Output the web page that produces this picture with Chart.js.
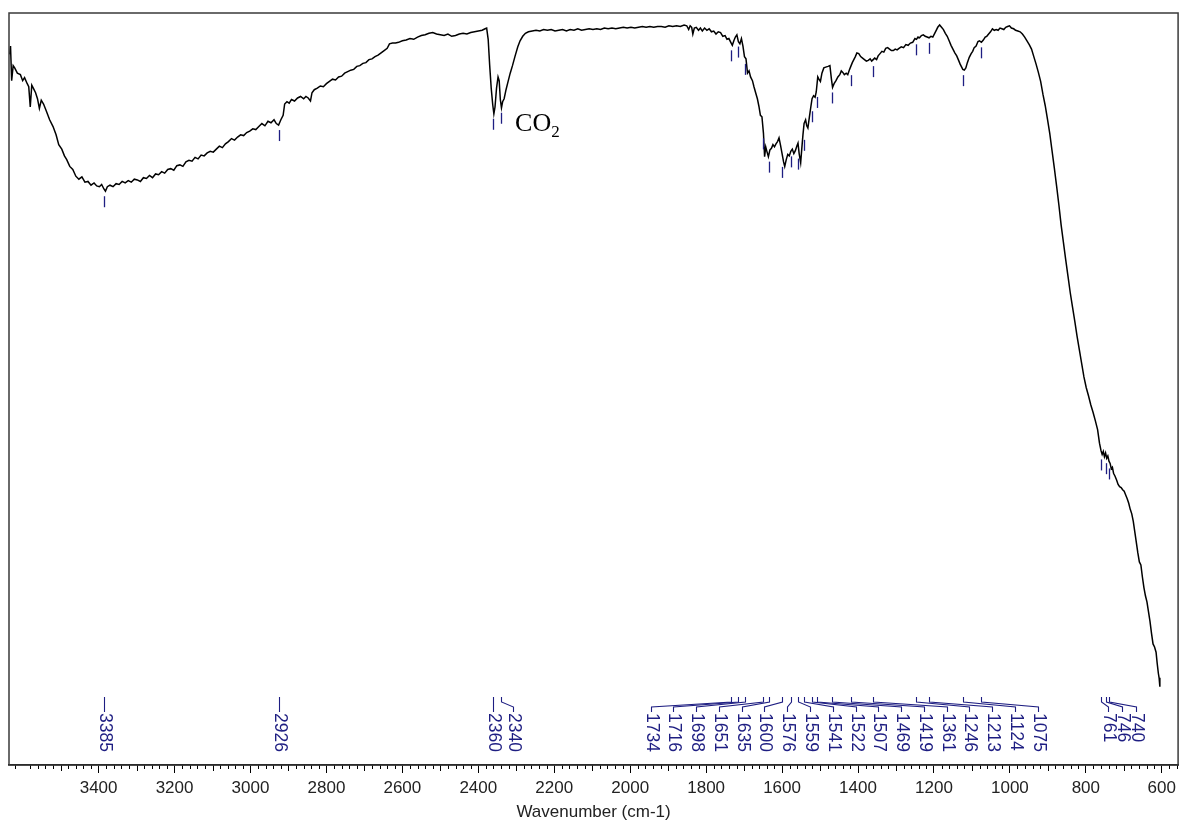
<!DOCTYPE html>
<html><head><meta charset="utf-8">
<script src="https://cdn.jsdelivr.net/npm/chart.js@4/dist/chart.umd.min.js"></script>
<style>html,body{margin:0;padding:0;background:#fff;} #wrap{width:1183px;height:823px;}</style>
</head><body><div id="wrap"><canvas id="c" width="1183" height="823"></canvas></div>
<script>
// ---- Spectrum data (wavenumber in cm-1, transmittance-like value) ----
const wnA = [3634,3632,3629,3625,3621,3614,3606,3600,3595,3588,
  3584,3580,3576,3572,3566,3561,3556,3551,3545,3538,
  3529,3520,3512,3505,3497,3490,3484,3476,3468,3460,
  3452,3444,3436,3428,3420,3412,3405,3398,3392,3386,
  3382,3377,3370,3362,3354,3346,3338,3330,3322,3314,
  3306,3298];
const tA = [94.5,95.6,91.0,93.0,92.7,92.0,91.8,91.0,91.4,90.6,
  90.2,87.5,90.4,90.0,89.4,88.6,87.3,88.4,87.9,87.0,
  85.8,84.9,83.8,82.5,81.9,81.0,80.5,79.6,79.2,78.3,
  77.9,78.2,77.5,77.6,77.1,77.4,77.0,76.9,77.2,76.6,
  76.3,76.9,77.1,76.9,77.3,77.2,77.6,77.4,77.7,77.5,
  77.9,77.8];
const wnB = [3290,3282,3274,3266,3258,3250,3242,3234,3226,3218,
  3210,3202,3194,3186,3178,3170,3162,3154,3146,3138,
  3130,3122,3114,3106,3098,3090,3082,3074,3066,3058,
  3050,3042,3034,3026,3018,3010,3002,2994,2986,2978,
  2970,2962,2954,2946,2938,2932,2926,2920,2914,2910];
const tB = [77.6,78.1,78.0,78.4,78.1,78.6,78.5,78.9,78.7,79.2,
  79.3,79.1,79.7,79.8,79.6,80.2,80.4,80.3,80.8,80.6,
  81.1,81.0,81.4,81.6,81.5,81.9,82.3,82.1,82.6,82.9,
  83.3,83.1,83.5,83.8,83.7,84.1,84.3,84.6,84.5,84.9,
  85.3,85.0,85.6,85.4,85.8,85.3,85.1,85.8,86.4,87.9];
const wnC = [2904,2898,2892,2884,2876,2868,2860,2854,2848,2842,
  2838,2832,2824,2816,2808,2800,2792,2784,2776,2768,
  2760,2752,2744,2736,2728,2720,2712,2704,2696,2688,
  2680,2672,2664,2656,2648,2640,2634,2626,2618,2610,
  2600,2590,2580,2570,2560,2550,2540,2530,2520,2510,
  2500,2490,2480,2470,2460,2450,2440,2430,2420,2410,
  2400,2390,2382];
const tC = [88.2,88.0,88.5,88.3,88.7,88.9,88.6,88.9,88.7,88.3,
  89.4,89.8,90.0,90.3,90.2,90.6,90.9,91.2,91.1,91.5,
  91.6,92.0,92.2,92.4,92.5,92.9,93.0,93.3,93.4,93.8,
  93.9,94.2,94.4,94.7,95.0,95.3,95.9,96.0,96.0,96.1,
  96.3,96.4,96.6,96.5,96.8,97.0,97.1,97.3,97.4,97.2,
  97.1,97.0,97.2,96.9,97.0,97.2,97.3,97.2,97.4,97.5,
  97.6,97.7,97.9];
const wnD = [2378,2374,2370,2366,2362,2359,2356,2352,2348,2345,
  2342,2339,2336,2332,2327,2322,2316,2310,2303,2296,
  2290,2283,2276,2268,2258];
const tD = [98.0,96.5,93.0,90.0,87.8,86.6,87.5,90.0,91.5,91.0,
  88.5,87.4,88.2,88.6,89.8,90.8,92.0,93.0,94.3,95.5,
  96.3,96.9,97.3,97.5,97.6];
const wnE = [2248,2238,2228,2218,2208,2198,2188,2178,2168,2158,
  2148,2138,2128,2118,2108,2098,2088,2078,2068,2058,
  2048,2038,2028,2018,2008,1998,1988,1978,1968,1958,
  1948,1938,1928,1918,1908,1898,1888,1878,1868,1858,
  1851];
const tE = [97.7,97.6,97.8,97.7,97.8,97.6,97.7,97.8,97.6,97.8,
  97.7,97.9,97.7,97.8,97.9,97.8,97.9,97.8,98.0,97.9,
  98.0,97.9,98.0,98.1,98.0,98.1,98.0,98.1,98.2,98.1,
  98.2,98.1,98.2,98.2,98.1,98.3,98.2,98.3,98.2,98.4,
  98.3];
const wnF = [1846,1842,1838,1835,1831,1826,1820,1815,1810,1804,
  1798,1792,1786,1780,1774,1768,1762,1756,1750,1745,
  1740,1735,1731,1727,1723,1719,1715,1711,1707,1703,
  1699];
const tF = [97.8,98.3,98.1,97.2,98.0,98.1,97.7,98.0,97.6,98.0,
  97.7,97.9,97.5,97.6,97.2,97.5,97.4,96.9,97.0,96.5,
  96.6,96.1,95.7,96.3,96.8,97.1,96.2,95.9,96.6,95.6,
  94.2];
const wnG = [1695,1691,1687,1683,1678,1674,1669,1665,1661,1657,
  1653,1649,1646,1643,1640,1636,1632,1628,1624,1620,
  1616,1612,1608,1604,1600,1596,1593,1589,1585,1581,
  1577,1573,1569,1565,1561,1558,1555,1551,1548,1545,
  1542,1538,1535,1532,1528,1524,1521,1517,1513,1510,
  1506];
const tG = [93.9,92.0,92.3,91.5,91.0,90.2,89.3,88.6,87.6,86.4,
  86.2,84.0,80.9,82.2,81.6,80.9,81.8,82.0,82.5,82.2,
  82.6,82.9,83.4,82.4,81.3,80.2,79.6,80.5,81.2,81.0,
  81.6,81.9,81.3,81.7,82.3,82.7,81.3,80.1,82.0,83.8,
  85.3,85.8,85.0,84.7,86.2,87.6,88.6,89.0,88.8,89.5,
  91.5];
const wnH = [1503,1499,1495,1490,1485,1479,1474,1470,1467,1463,
  1458,1453,1448,1444,1440,1436,1431,1427,1423,1419,
  1415,1411,1407,1403,1398,1393,1388,1383,1378,1373,
  1368,1364,1360,1356,1351,1347,1342,1337,1332,1327,
  1322,1317,1312,1307,1302,1297,1292,1286,1280,1274,
  1268,1262,1256,1250,1246,1242,1238,1233,1228,1223,
  1218,1213,1208,1203,1198,1194,1190,1185];
const tH = [91.2,90.9,92.0,92.7,92.8,92.9,93.0,91.2,90.1,90.6,
  91.0,91.5,91.8,92.3,92.1,91.8,92.0,91.8,92.4,92.9,
  93.4,93.8,94.2,94.7,94.6,94.2,94.0,93.8,93.6,93.7,
  93.9,93.6,93.8,94.0,93.8,94.3,94.6,94.9,94.8,95.3,
  95.4,95.2,95.0,95.0,95.2,95.1,95.3,95.5,95.4,95.8,
  95.7,96.0,96.1,96.6,96.5,96.8,96.7,97.0,97.1,96.9,
  96.8,96.7,96.9,96.8,97.3,97.7,98.1,98.4];
const wnI = [1180,1175,1170,1165,1160,1155,1150,1145,1140,1135,
  1131,1127,1124,1120,1116,1112,1107,1102,1098,1094,
  1089,1084,1080,1075,1070,1065,1061,1056,1051,1046,
  1041,1036,1031,1026,1021,1016,1011,1006,1001];
const tI = [98.1,97.8,97.3,96.9,96.3,95.7,95.2,94.7,94.3,93.7,
  93.2,92.8,92.5,92.4,92.7,93.4,94.1,94.6,94.9,95.4,
  95.6,96.2,96.3,96.1,96.4,96.8,96.9,97.2,97.5,97.9,
  97.7,97.8,97.7,98.0,97.9,97.8,98.1,98.2,98.3];
const wnJ = [996,990,985,979,973,967,961,955,949,943,
  937,931,925,919,913,907,901,895,889,883,
  877,871,865,859,853,847,841,835,829,823,
  817,811,805,799,793,787,781,775,769,764,
  760,757,754,751,748,745,742,739,736,733,
  730,727,723,719,715,711,707,703,699,695,
  691,687,683,679,675,671,667,663,659,655,
  651,647,643,639,635,631,627,623,619,615,
  612,609,607,605];
const tJ = [98.0,97.9,97.7,97.6,97.5,97.2,96.8,96.3,95.8,95.2,
  94.2,93.2,92.1,90.9,89.2,87.7,85.9,84.0,81.7,79.4,
  77.0,74.5,71.8,69.5,67.2,65.0,62.8,60.9,59.0,57.0,
  55.2,53.4,51.6,50.2,49.1,47.9,46.9,45.8,44.6,42.8,
  41.8,41.3,41.7,41.0,41.5,40.8,41.1,40.4,40.1,39.4,
  39.6,38.8,38.4,37.9,37.3,37.0,36.9,36.6,36.4,35.9,
  35.4,34.8,34.0,33.4,32.4,31.0,29.6,28.2,27.0,26.6,
  25.0,23.6,22.5,21.7,20.4,19.1,17.5,16.1,15.7,15.0,
  13.5,12.2,11.6,10.4];

// ---- Peak picks ----
const peakWavenumbers = [3385, 2926, 2360, 2340, 1734, 1716, 1698, 1651, 1635, 1600, 1576, 1559,
  1541, 1522, 1507, 1469, 1419, 1361, 1246, 1213, 1124, 1075, 761, 746, 740];
const peakLabels = ["3385","2926","2360","2340","1734","1716","1698","1651","1635","1600","1576","1559",
  "1541","1522","1507","1469","1419","1361","1246","1213","1124","1075","761","746","740"];

// ---- Axis ----
const xTickValues = [3400, 3200, 3000, 2800, 2600, 2400, 2200, 2000, 1800, 1600, 1400, 1200, 1000, 800, 600];
const xTitle = "Wavenumber (cm-1)";
const annotationText = ["CO", "2"];

const wavenumbers = [].concat(wnA, wnB, wnC, wnD, wnE, wnF, wnG, wnH, wnI, wnJ);
const transmittance = [].concat(tA, tB, tC, tD, tE, tF, tG, tH, tI, tJ);
const points = wavenumbers.map((w, i) => ({x: w, y: transmittance[i]}));

const NAVY = '#1e1e82';
const LABEL_FONT = '17.5px "Liberation Sans", Arial, sans-serif';

function lowestNear(wn, half) {
  let best = Infinity;
  for (let i = 0; i < wavenumbers.length; i++) {
    if (Math.abs(wavenumbers[i] - wn) <= half) best = Math.min(best, transmittance[i]);
  }
  for (let i = 0; i < wavenumbers.length - 1; i++) {
    const a = wavenumbers[i], b = wavenumbers[i + 1];
    if ((a - wn) * (b - wn) <= 0) {
      const t = (wn - a) / (b - a);
      best = Math.min(best, transmittance[i] + t * (transmittance[i + 1] - transmittance[i]));
      break;
    }
  }
  return best;
}

// label layout groups: [firstIndex, lastIndex, spanStartWn, spanEndWn] (null span = at the peak)
const labelGroups = [
  [0, 0, null, null],
  [1, 1, null, null],
  [2, 3, 2360, 2308],
  [4, 21, 1946, 927],
  [22, 24, 742, 669]
];

const peakPlugin = {
  id: 'peaks',
  afterDatasetsDraw(chart) {
    const xs = chart.scales.x, ys = chart.scales.y, ctx = chart.ctx, ca = chart.chartArea;
    ctx.save();
    ctx.strokeStyle = NAVY; ctx.fillStyle = NAVY; ctx.lineWidth = 1.3;
    // markers under the curve
    peakWavenumbers.forEach((wn) => {
      const x = Math.round(xs.getPixelForValue(wn)) + 0.5;
      const yv = ys.getPixelForValue(lowestNear(wn, 4));
      ctx.beginPath(); ctx.moveTo(x, yv + 5); ctx.lineTo(x, yv + 16); ctx.stroke();
    });
    // bottom labels with connectors
    ctx.lineWidth = 1.1;
    const topY = ca.bottom - 68, labelTop = ca.bottom - 52;
    ctx.font = LABEL_FONT;
    ctx.textAlign = 'left'; ctx.textBaseline = 'middle';
    labelGroups.forEach(([i0, i1, s0, s1]) => {
      const n = i1 - i0 + 1;
      for (let k = 0; k < n; k++) {
        const i = i0 + k;
        const px = Math.round(xs.getPixelForValue(peakWavenumbers[i])) + 0.5;
        let lx = px;
        if (s0 !== null) {
          const a = xs.getPixelForValue(s0), b = xs.getPixelForValue(s1);
          lx = Math.round(n === 1 ? a : a + (b - a) * k / (n - 1)) + 0.5;
        }
        ctx.beginPath();
        if (Math.abs(lx - px) < 1) {
          ctx.moveTo(px, topY); ctx.lineTo(px, labelTop - 1);
        } else {
          ctx.moveTo(px, topY); ctx.lineTo(px, topY + 5);
          ctx.lineTo(lx, labelTop - 6); ctx.lineTo(lx, labelTop - 1);
        }
        ctx.stroke();
        ctx.save();
        ctx.translate(lx, labelTop);
        ctx.rotate(Math.PI / 2);
        ctx.fillText(peakLabels[i], 0, 0);
        ctx.restore();
      }
    });
    // CO2 annotation
    ctx.fillStyle = '#000';
    const cx = xs.getPixelForValue(2340) + 14, cy = ys.getPixelForValue(84.3);
    ctx.textBaseline = 'alphabetic';
    ctx.font = '26px "Liberation Serif", "Times New Roman", serif';
    ctx.fillText(annotationText[0], cx, cy);
    const w = ctx.measureText(annotationText[0]).width;
    ctx.font = '17px "Liberation Serif", "Times New Roman", serif';
    ctx.fillText(annotationText[1], cx + w, cy + 6);
    ctx.restore();
  }
};

const framePlugin = {
  id: 'frame',
  afterDraw(chart) {
    const xs = chart.scales.x, ctx = chart.ctx, ca = chart.chartArea;
    ctx.save();
    // minor ticks
    ctx.strokeStyle = '#000'; ctx.lineWidth = 1;
    for (let v = Math.ceil(xs.min / 20) * 20; v <= xs.max; v += 20) {
      if (v % 200 === 0) continue;
      const x = Math.round(xs.getPixelForValue(v)) + 0.5;
      const len = (v % 100 === 0) ? 6 : 4;
      ctx.beginPath(); ctx.moveTo(x, ca.bottom); ctx.lineTo(x, ca.bottom + len); ctx.stroke();
    }
    // frame
    ctx.strokeStyle = '#3a3a3a'; ctx.lineWidth = 1.5;
    ctx.strokeRect(ca.left, ca.top, ca.right - ca.left, ca.bottom - ca.top);
    ctx.restore();
  }
};

new Chart(document.getElementById('c'), {
  type: 'line',
  data: { datasets: [{ data: points, borderColor: '#000', borderWidth: 1.5, pointRadius: 0, tension: 0, fill: false }] },
  options: {
    responsive: false, animation: false,
    layout: { padding: { left: 9, top: 13, right: 4, bottom: 2 } },
    plugins: { legend: { display: false }, tooltip: { enabled: false } },
    scales: {
      x: {
        type: 'linear', reverse: true, min: 557, max: 3636,
        afterBuildTicks: (scale) => { scale.ticks = xTickValues.map(v => ({ value: v })); },
        ticks: { autoSkip: false, maxRotation: 0, padding: 7, color: '#222',
          font: { family: '"Liberation Sans", Arial, sans-serif', size: 17, lineHeight: 1 },
          callback: (v) => String(v) },
        grid: { display: true, drawOnChartArea: false, drawTicks: true, tickLength: 8, color: '#000', lineWidth: 1 },
        border: { display: true, color: '#000', width: 1.5 },
        title: { display: true, text: xTitle, color: '#222', padding: { top: 0, bottom: 0 },
          font: { family: '"Liberation Sans", Arial, sans-serif', size: 17, lineHeight: 1 } }
      },
      y: { display: false, min: 0, max: 100 }
    }
  },
  plugins: [peakPlugin, framePlugin]
});
</script>
</body></html>
